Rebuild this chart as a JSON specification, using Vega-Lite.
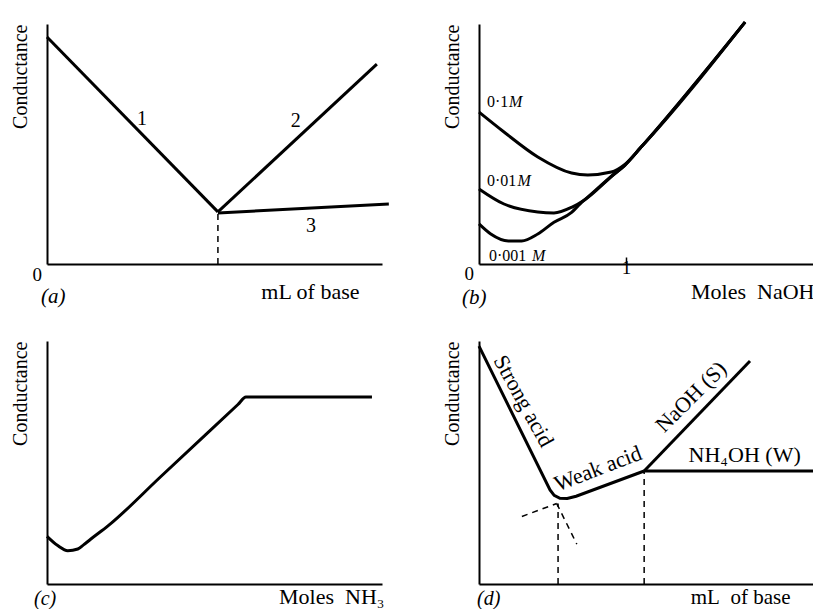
{
  "$schema": "https://vega.github.io/schema/vega-lite/v6.json",
  "background": "white",
  "padding": {"left": 9, "top": 16, "right": 0, "bottom": 0},
  "config": {
    "view": {"stroke": null},
    "font": "Liberation Serif",
    "axis": {
      "domainColor": "black", "domainWidth": 2, "grid": false, "ticks": false, "labels": false,
      "titleFont": "Liberation Serif", "titleFontSize": 22, "titleFontWeight": "normal", "titleColor": "black",
      "labelFont": "Liberation Serif", "labelFontSize": 19, "labelColor": "black"
    },
    "text": {"font": "Liberation Serif", "color": "black"}
  },
  "datasets": {
    "a_lines": [
      {"s": "1", "x": 0, "y": 94.6}, {"s": "1", "x": 1, "y": 21.7},
      {"s": "2", "x": 1, "y": 21.7}, {"s": "2", "x": 1.93, "y": 83.3},
      {"s": "3", "x": 1, "y": 21.3}, {"s": "3", "x": 2.0, "y": 25.0}
    ],
    "a_dash": [{"x": 1, "y": 0, "y2": 21}],
    "a_labels": [
      {"x": 0.556, "y": 60.4, "t": "1"}, {"x": 1.456, "y": 59.6, "t": "2"}, {"x": 1.544, "y": 15.8, "t": "3"}
    ],
    "a_origin": [{"x": 0, "y": 0, "t": "0", "tag": "(a)"}],
    "b_curves": [
      {"s": "0.1", "x": 0, "y": 63.3}, {"s": "0.1", "x": 0.17, "y": 55}, {"s": "0.1", "x": 0.40, "y": 44.6},
      {"s": "0.1", "x": 0.63, "y": 37.9}, {"s": "0.1", "x": 0.74, "y": 37.1}, {"s": "0.1", "x": 0.90, "y": 38.3},
      {"s": "0.1", "x": 0.99, "y": 41.4}, {"s": "0.1", "x": 1.10, "y": 48.5}, {"s": "0.1", "x": 1.81, "y": 100.8},
      {"s": "0.01", "x": 0, "y": 31.3}, {"s": "0.01", "x": 0.17, "y": 25}, {"s": "0.01", "x": 0.40, "y": 21.7},
      {"s": "0.01", "x": 0.51, "y": 21.3}, {"s": "0.01", "x": 0.63, "y": 23.6}, {"s": "0.01", "x": 0.72, "y": 26.8},
      {"s": "0.01", "x": 0.92, "y": 37.5}, {"s": "0.01", "x": 0.99, "y": 41.0},
      {"s": "0.01", "x": 1.10, "y": 48.5}, {"s": "0.01", "x": 1.81, "y": 100.8},
      {"s": "0.001", "x": 0, "y": 16.7}, {"s": "0.001", "x": 0.08, "y": 12.5}, {"s": "0.001", "x": 0.20, "y": 9.6},
      {"s": "0.001", "x": 0.29, "y": 9.6}, {"s": "0.001", "x": 0.40, "y": 12.5}, {"s": "0.001", "x": 0.51, "y": 17.4},
      {"s": "0.001", "x": 0.63, "y": 21.5}, {"s": "0.001", "x": 0.69, "y": 25.2}, {"s": "0.001", "x": 0.72, "y": 26.8},
      {"s": "0.001", "x": 0.92, "y": 37.5}, {"s": "0.001", "x": 0.99, "y": 41.0}, {"s": "0.001", "x": 1.10, "y": 48.5},
      {"s": "0.001", "x": 1.81, "y": 100.8}
    ],
    "b_num": [
      {"x": 0.054, "y": 65.4, "t": "0·1"}, {"x": 0.054, "y": 32.5, "t": "0·01"}, {"x": 0.068, "y": 1.25, "t": "0·001"}
    ],
    "b_m": [
      {"x": 0.204, "y": 65.4, "t": "M"}, {"x": 0.262, "y": 32.5, "t": "M"}, {"x": 0.36, "y": 1.25, "t": "M"}
    ],
    "b_origin": [{"x": 0, "y": 0, "t": "0", "tag": "(b)"}],
    "c_curve": [
      {"x": 0, "y": 19.6}, {"x": 0.32, "y": 15.8}, {"x": 0.62, "y": 13.7}, {"x": 0.92, "y": 14.4},
      {"x": 1.1, "y": 16.2}, {"x": 1.31, "y": 18.5}, {"x": 1.82, "y": 23.9}, {"x": 3.40, "y": 44.25},
      {"x": 5.7, "y": 73.86}, {"x": 5.94, "y": 76.95}, {"x": 9.70, "y": 76.95}
    ],
    "c_origin": [{"x": 0, "y": 0, "tag": "(c)"}],
    "d_lines": [
      {"s": "acid", "x": 0, "y": 97.9}, {"s": "acid", "x": 2.12, "y": 38.75}, {"s": "acid", "x": 2.244, "y": 36.48},
      {"s": "acid", "x": 2.4155, "y": 35.28}, {"s": "acid", "x": 2.634, "y": 35.16}, {"s": "acid", "x": 2.9, "y": 36.1},
      {"s": "acid", "x": 4.93, "y": 46.5},
      {"s": "NaOH", "x": 4.93, "y": 46.5}, {"s": "NaOH", "x": 8.09, "y": 91.8},
      {"s": "NH4OH", "x": 4.93, "y": 46.5}, {"s": "NH4OH", "x": 10.0, "y": 46.5}
    ],
    "d_dash": [
      {"x": 2.36, "y": 0, "x2": 2.36, "y2": 33.1},
      {"x": 4.93, "y": 0, "x2": 4.93, "y2": 46.5},
      {"x": 1.28, "y": 27.8, "x2": 2.32, "y2": 33.1},
      {"x": 2.32, "y": 33.1, "x2": 2.92, "y2": 16.4}
    ],
    "d_labels": [
      {"x": 1.33, "y": 75.3, "t": "Strong acid", "a": 61},
      {"x": 3.55, "y": 47.5, "t": "Weak acid", "a": -21},
      {"x": 6.33, "y": 77.0, "t": "NaOH (S)", "a": -45}
    ],
    "d_nh4": [{"x": 7.93, "y": 50.2, "t": "NH₄OH (W)"}],
    "d_origin": [{"x": 0, "y": 0, "tag": "(d)"}]
  },
  "concat": [
    {
      "width": 335, "height": 240,
      "encoding": {
        "x": {"field": "x", "type": "quantitative", "scale": {"domain": [0, 1.96], "nice": false, "zero": false},
          "axis": {"title": "mL of base", "titleX": 312, "titleY": 34, "titleAlign": "right", "titleBaseline": "alphabetic"}},
        "y": {"field": "y", "type": "quantitative", "scale": {"domain": [0, 100], "nice": false, "zero": false},
          "axis": {"title": "Conductance", "titleAnchor": "end", "titlePadding": 17, "titleFontSize": 20}}
      },
      "layer": [
        {"data": {"name": "a_lines"}, "mark": {"type": "line", "color": "black", "strokeWidth": 3, "clip": false},
          "encoding": {"detail": {"field": "s"}}},
        {"data": {"name": "a_dash"}, "mark": {"type": "rule", "color": "black", "strokeWidth": 1.5, "strokeDash": [6, 5]},
          "encoding": {"y2": {"field": "y2"}}},
        {"data": {"name": "a_labels"}, "mark": {"type": "text", "fontSize": 20, "baseline": "middle"},
          "encoding": {"text": {"field": "t"}}},
        {"data": {"name": "a_origin"}, "mark": {"type": "text", "fontSize": 19, "align": "right", "baseline": "top", "dx": -5, "dy": 2},
          "encoding": {"text": {"field": "t"}}},
        {"data": {"name": "a_origin"}, "mark": {"type": "text", "fontSize": 21, "fontStyle": "italic", "align": "left", "baseline": "alphabetic", "dx": -6, "dy": 39},
          "encoding": {"text": {"field": "tag"}}}
      ]
    },
    {
      "width": 335, "height": 240,
      "encoding": {
        "x": {"field": "x", "type": "quantitative", "scale": {"domain": [0, 2.279], "nice": false, "zero": false},
          "axis": {"title": "Moles\u2002NaOH", "titleX": 335, "titleY": 34, "titleAlign": "right", "titleBaseline": "alphabetic",
            "values": [1], "ticks": true, "tickSize": -7, "tickWidth": 1.5, "tickColor": "black", "labels": true, "labelPadding": 1, "labelFontSize": 19}},
        "y": {"field": "y", "type": "quantitative", "scale": {"domain": [0, 100], "nice": false, "zero": false},
          "axis": {"title": "Conductance", "titleAnchor": "end", "titlePadding": 17, "titleFontSize": 20}}
      },
      "layer": [
        {"data": {"name": "b_curves"}, "mark": {"type": "line", "color": "black", "strokeWidth": 3, "interpolate": "monotone", "clip": false},
          "encoding": {"detail": {"field": "s"}}},
        {"data": {"name": "b_num"}, "mark": {"type": "text", "fontSize": 16, "align": "left", "baseline": "alphabetic"},
          "encoding": {"text": {"field": "t"}}},
        {"data": {"name": "b_m"}, "mark": {"type": "text", "fontSize": 16, "fontStyle": "italic", "align": "left", "baseline": "alphabetic"},
          "encoding": {"text": {"field": "t"}}},
        {"data": {"name": "b_origin"}, "mark": {"type": "text", "fontSize": 19, "align": "right", "baseline": "top", "dx": -5, "dy": 1},
          "encoding": {"text": {"field": "t"}}},
        {"data": {"name": "b_origin"}, "mark": {"type": "text", "fontSize": 21, "fontStyle": "italic", "align": "left", "baseline": "alphabetic", "dx": -17, "dy": 40},
          "encoding": {"text": {"field": "tag"}}}
      ]
    },
    {
      "width": 335, "height": 243,
      "encoding": {
        "x": {"field": "x", "type": "quantitative", "scale": {"domain": [0, 10], "nice": false, "zero": false},
          "axis": {"title": "Moles\u2002NH₃", "titleX": 337, "titleY": 19, "titleAlign": "right", "titleBaseline": "alphabetic"}},
        "y": {"field": "y", "type": "quantitative", "scale": {"domain": [0, 100], "nice": false, "zero": false},
          "axis": {"title": "Conductance", "titleAnchor": "end", "titlePadding": 17, "titleFontSize": 20}}
      },
      "layer": [
        {"data": {"name": "c_curve"}, "mark": {"type": "line", "color": "black", "strokeWidth": 3, "interpolate": "monotone", "clip": false}},
        {"data": {"name": "c_origin"}, "mark": {"type": "text", "fontSize": 20, "fontStyle": "italic", "align": "left", "baseline": "alphabetic", "dx": -13, "dy": 21},
          "encoding": {"text": {"field": "tag"}}}
      ]
    },
    {
      "width": 335, "height": 243,
      "encoding": {
        "x": {"field": "x", "type": "quantitative", "scale": {"domain": [0, 10], "nice": false, "zero": false},
          "axis": {"title": "mL\u2002of base", "titleX": 311, "titleY": 19, "titleAlign": "right", "titleBaseline": "alphabetic", "titleFontSize": 21}},
        "y": {"field": "y", "type": "quantitative", "scale": {"domain": [0, 100], "nice": false, "zero": false},
          "axis": {"title": "Conductance", "titleAnchor": "end", "titlePadding": 17, "titleFontSize": 20}}
      },
      "layer": [
        {"data": {"name": "d_lines"}, "mark": {"type": "line", "color": "black", "strokeWidth": 3, "clip": false},
          "encoding": {"detail": {"field": "s"}}},
        {"data": {"name": "d_dash"}, "mark": {"type": "rule", "color": "black", "strokeWidth": 1.5, "strokeDash": [6, 5]},
          "encoding": {"x2": {"field": "x2"}, "y2": {"field": "y2"}}},
        {"data": {"name": "d_labels"}, "mark": {"type": "text", "fontSize": 22, "align": "center", "baseline": "middle"},
          "encoding": {"text": {"field": "t"}, "angle": {"field": "a", "type": "quantitative", "scale": null}}},
        {"data": {"name": "d_nh4"}, "mark": {"type": "text", "fontSize": 22, "align": "center", "baseline": "alphabetic"},
          "encoding": {"text": {"field": "t"}}},
        {"data": {"name": "d_origin"}, "mark": {"type": "text", "fontSize": 20, "fontStyle": "italic", "align": "left", "baseline": "alphabetic", "dx": -2, "dy": 21},
          "encoding": {"text": {"field": "tag"}}}
      ]
    }
  ],
  "columns": 2,
  "spacing": {"row": 77, "column": 97},
  "bounds": "flush"
}
